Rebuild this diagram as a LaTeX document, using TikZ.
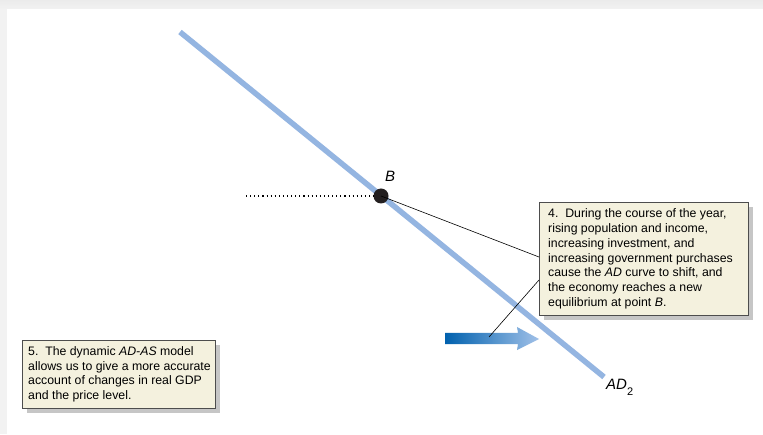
\documentclass[tikz,border=0pt]{standalone}
\usepackage{fontspec}
\setmainfont{Liberation Sans}
\definecolor{adblue}{HTML}{94B5E1}
\definecolor{boxfill}{HTML}{F4F1DE}
\definecolor{boxborder}{HTML}{4D4D4D}
\definecolor{shadowgray}{HTML}{C6C6C6}
\definecolor{arrowdark}{HTML}{0061AE}
\definecolor{arrowlight}{HTML}{A0C0E8}
\definecolor{dotblack}{HTML}{231F20}
\definecolor{bggray}{HTML}{F2F2F2}
\definecolor{topgray}{HTML}{EBEBEB}
\begin{document}
\begin{tikzpicture}[x=1pt,y=1pt,
  adline/.style={line width=5.5pt, draw=adblue},
  notebox/.style={draw=boxborder, fill=boxfill, line width=0.8pt, inner sep=0pt, anchor=north west},
  shadowbox/.style={fill=shadowgray, inner sep=0pt, anchor=north west},
  notetext/.style={inner sep=0pt, align=left, font=\fontsize{12.3}{14.7}\selectfont, anchor=west},
  leader/.style={draw=black, line width=0.6pt},
  dotline/.style={draw=black, line width=1.1pt, dash pattern=on 1.1pt off 3pt},
  biglabel/.style={font=\fontsize{15}{18}\selectfont\itshape, inner sep=0pt}
]
\useasboundingbox (0,0) rectangle (763,434);
\shade[top color=topgray, bottom color=bggray] (0,425) rectangle (763,434);
\fill[bggray] (0,0) rectangle (7,425);
\fill[white] (7,0) rectangle (763,425);

% AD2 curve
\coordinate (adtop) at (180,402);
\coordinate (adbot) at (604,57);
\draw[adline] (adtop) -- (adbot);

% shift arrow
\shade[left color=arrowdark, right color=arrowlight]
  (445,90) -- (518,90) -- (517,84) -- (539,95) -- (517,107) -- (518,101) -- (445,101) -- cycle;
\coordinate (shiftpt) at (489,97);

% point B
\node[circle, fill=dotblack, minimum size=15pt, inner sep=0pt] (B) at (381,238) {};
\node[biglabel] (Blabel) at (390,258) {B};
\coordinate (dotstart) at (246,238);
\draw[dotline] (dotstart) -- (B);

% box 4
\node[shadowbox, minimum width=209pt, minimum height=113pt] (box4shadow) at (544,227) {};
\node[notebox, minimum width=209pt, minimum height=113pt] (box4) at (539,232) {};
\node[notetext] (t4) at ([xshift=9pt]box4.west) {4.\ \ During the course of the year,\\
rising population and income,\\
increasing investment, and\\
increasing government purchases\\
cause the \textit{AD} curve to shift, and\\
the economy reaches a new\\
equilibrium at point \textit{B}.};

% leaders
\coordinate (l1) at (539,177);
\coordinate (l2) at (539,154);
\draw[leader] (B.center) -- (l1);
\draw[leader] (shiftpt) -- (l2);

% box 5
\node[shadowbox, minimum width=193pt, minimum height=68pt] (box5shadow) at (27,89) {};
\node[notebox, minimum width=193pt, minimum height=68pt] (box5) at (22,94) {};
\node[notetext] (t5) at ([xshift=6pt]box5.west) {5.\ \ The dynamic \textit{AD-AS} model\\
allows us to give a more accurate\\
account of changes in real GDP\\
and the price level.};

% AD2 label
\node[biglabel, anchor=base west] (adlabel) at (606,45) {AD\raisebox{-6pt}{\fontsize{11}{11}\selectfont\upshape 2}};
\end{tikzpicture}
\end{document}
